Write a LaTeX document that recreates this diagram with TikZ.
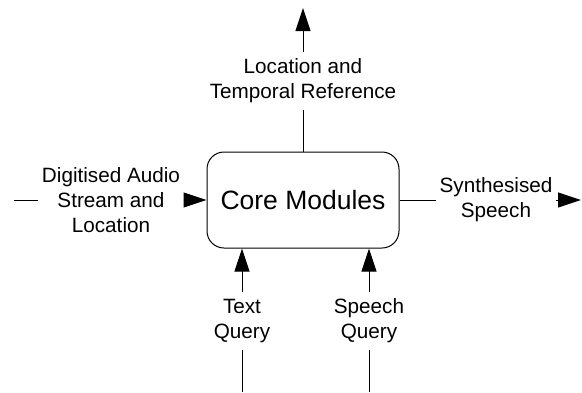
\documentclass[tikz,border=0pt]{standalone}
\usepackage{fontspec}
\setmainfont{Liberation Sans}
\usetikzlibrary{arrows.meta}
\begin{document}
\begin{tikzpicture}[x=1pt,y=-1pt,
  flow/.style={line width=1pt,draw=black},
  arr/.style={flow,-{Triangle[length=23pt,width=15pt]}},
  lbl/.style={align=center,inner xsep=3.5pt,inner ysep=7pt,
    font=\fontsize{20.7}{25}\selectfont},
  corebox/.style={draw=black,line width=1pt,rounded corners=17pt,
    minimum width=192pt,minimum height=96pt,inner sep=0pt,
    font=\fontsize{26.5}{32}\selectfont}]
\useasboundingbox (0,0) rectangle (582,392);

% central block
\node[corebox] (core) at (303,200) {Core Modules};

% labels of the flows
\node[lbl] (outtop) at (303,81) {Location and\\Temporal Reference};
\node[lbl] (inleft) at (111,200) {Digitised Audio\\Stream and\\Location};
\node[lbl] (outright) at (496,200) {Synthesised\\Speech};
\node[lbl] (intext) at (242,321) {Text\\Query};
\node[lbl] (inspeech) at (369,321) {Speech\\Query};

% free ends of the flows
\coordinate (topend) at (303,8);
\coordinate (leftstart) at (14,200);
\coordinate (rightend) at (581,200);
\coordinate (textstart) at (242,392);
\coordinate (speechstart) at (369,392);

% output upwards
\draw[flow] (core.north) -- (outtop.south);
\draw[arr] (outtop.north) -- (topend);

% input from the left
\draw[flow] (leftstart) -- (inleft.west);
\draw[arr] (inleft.east) -- (core.west);

% output to the right
\draw[flow] (core.east) -- (outright.west);
\draw[arr] (outright.east) -- (rightend);

% inputs from below
\draw[flow] (textstart) -- (intext.south);
\draw[arr] (intext.north) -- (core.south -| intext);
\draw[flow] (speechstart) -- (inspeech.south);
\draw[arr] (inspeech.north) -- (core.south -| inspeech);
\end{tikzpicture}
\end{document}
